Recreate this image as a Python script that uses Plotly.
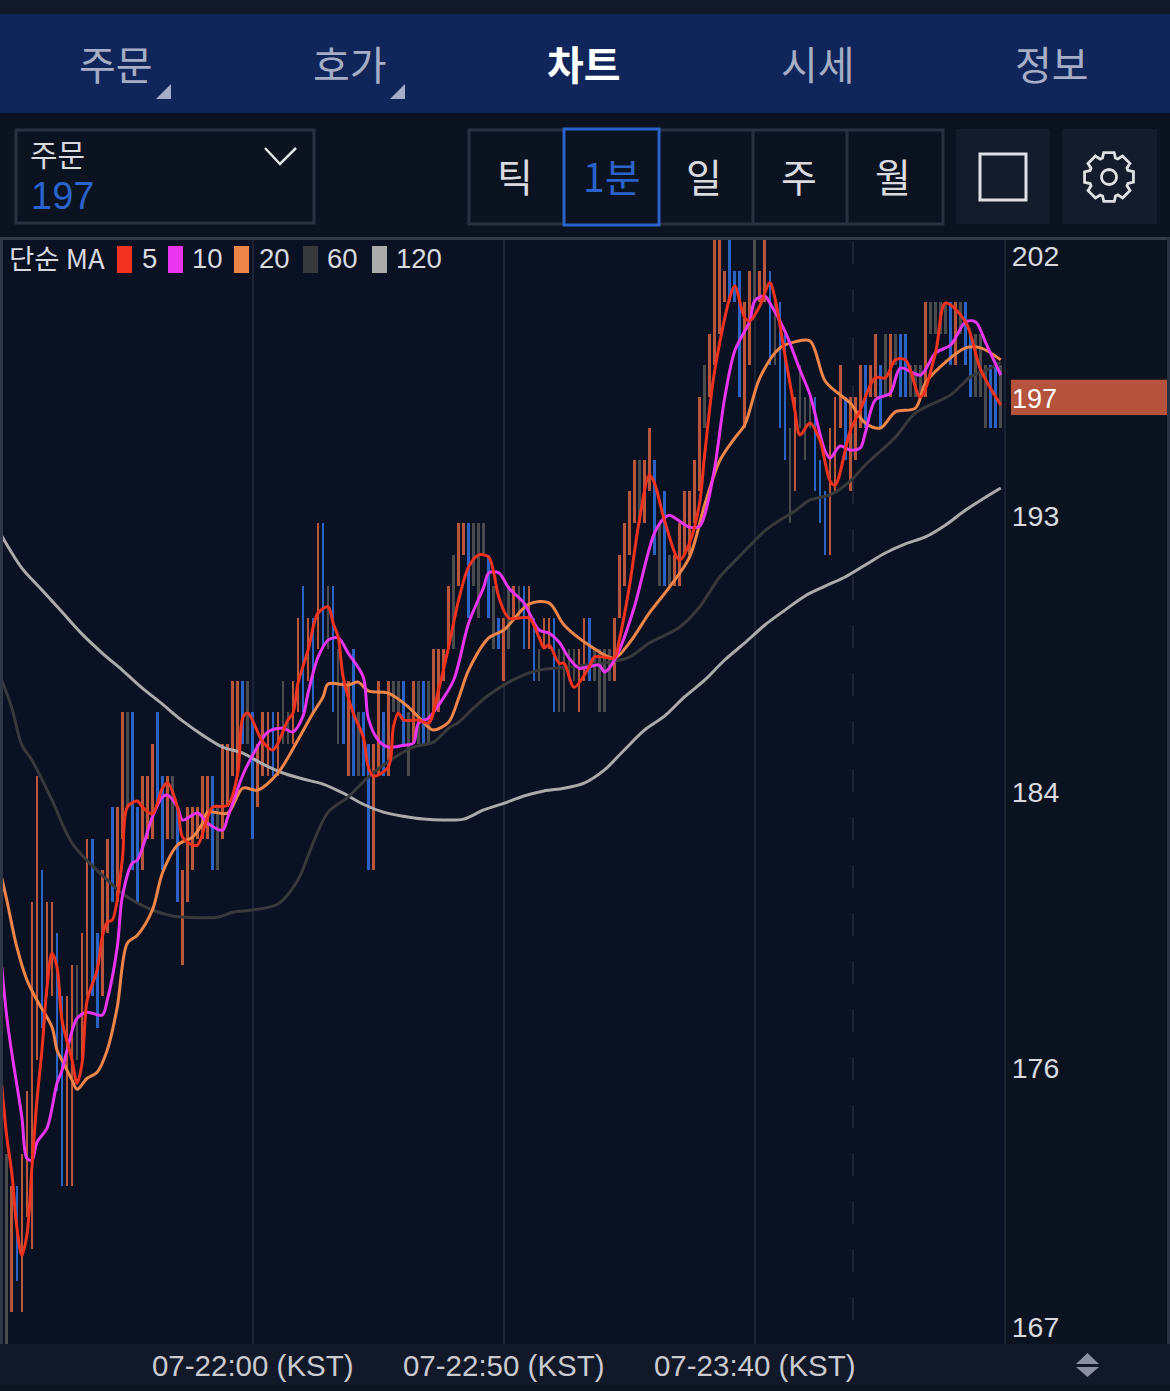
import math
import plotly.graph_objects as go

W, H = 1170, 1391

# ---------- data ----------
first_minute = -49  # minutes relative to 22:00 of the first bar
bar_high = [
173,172,172,173,175,181,185,182,181,181,
180,178,178,179,179,180,183,183,180,182,
183,184,184,187,187,187,184,185,185,186,
187,185,185,185,184,182,184,184,184,185,
185,185,184,186,186,188,188,188,188,187,
186,187,187,187,187,188,187,188,190,191,
190,190,193,193,191,191,189,188,188,189,
187,187,186,186,188,187,188,188,188,188,
187,188,188,188,188,189,189,189,191,192,
193,193,193,193,193,193,192,191,190,190,
191,191,191,191,191,190,189,190,190,190,
189,189,189,189,189,190,190,189,189,189,
189,190,192,193,194,195,195,195,196,195,
193,194,192,192,193,194,194,195,197,198,
199,202,202,201,202,201,201,200,201,202,
201,202,201,200,200,199,196,197,198,197,
197,197,195,194,196,197,198,197,197,197,
198,198,198,199,198,199,199,199,199,199,
198,198,198,200,200,200,200,200,200,200,
200,200,199,199,199,198,198,198,198]
bar_low = [
167,168,169,168,171,170,176,177,178,178,
175,172,172,172,176,176,178,178,177,178,
180,181,181,183,184,182,181,182,183,183,
184,182,183,183,181,179,181,182,183,183,
183,182,182,183,184,185,185,186,186,183,
184,185,185,185,185,186,186,186,187,187,
188,187,189,189,189,187,186,186,185,185,
185,185,182,182,185,185,185,187,187,186,
185,186,186,186,186,187,187,188,189,189,
191,192,190,191,190,192,190,189,189,188,
189,190,190,189,189,188,188,189,189,187,
187,187,188,188,187,188,188,188,187,187,
188,188,190,191,192,193,193,193,194,192,
191,191,191,191,191,192,192,193,194,196,
197,198,199,200,200,200,197,196,198,200,
200,200,198,198,196,195,193,194,196,195,
196,194,193,192,192,194,196,195,194,195,
196,196,197,197,196,197,197,198,197,197,
197,197,197,197,199,199,199,199,198,198,
199,198,197,197,197,196,196,196,196]
bar_dir = list(
"grbrrrrbrr"
"bbrrgrrbbr"
"rbrrgbbrrr"
"bbrgbrrrrr"
"rbgrrrrbgb"
"rrrbrggrrb"
"rbrbgbgbrb"
"gbbrrbrggb"
"grgbgrrrrg"
"rrbgggbgbr"
"grgbrbgrrb"
"ggggrrbggg"
"grrrrrgrrb"
"gbgrrrrrrg"
"rrrrbbbrrg"
"rrbgbbgrgg"
"gbbbrrrbrr"
"rbrrbgrgbb"
"gggrggggbr"
"gbbgggbbg")

ma5_i = [-1,0,1,2,3,4,5,6,7,8,9,10,11,13,14,15,16,18,19,20,21,23,24,26,27,29,31,32,34,35,37,38,40,41,44,46,47,48,51,53,56,57,58,60,62,64,65,66,67,69,71,72,73,76,77,78,79,82,84,86,88,90,92,94,96,97,98,100,104,106,107,108,110,111,113,116,117,119,121,122,124,126,128,129,131,134,136,138,139,141,144,145,147,148,150,152,153,155,157,158,160,162,164,165,168,170,173,175,177,179,182,185,187,191,194,198]
ma5 = [175.19,173.54,172.40,170.69,169.80,170.44,172.59,174.71,176.30,178.30,179.37,178.93,177.25,175.98,175.25,175.89,177.88,178.84,179.88,180.36,180.42,182.32,184.00,184.19,184.00,183.78,184.60,184.76,184.00,183.05,182.80,182.80,183.68,184.00,184.06,185.08,186.82,186.98,186.06,185.81,186.76,186.98,187.93,188.97,190.15,190.34,189.83,189.39,188.12,186.98,186.22,185.27,184.98,185.27,186.53,186.98,186.76,186.76,186.66,187.71,189.07,190.56,191.61,191.99,191.92,191.42,190.66,189.99,189.99,189.39,189.04,189.14,188.56,188.56,187.80,188.44,188.75,188.75,188.72,189.29,190.97,193.09,194.52,194.27,193.09,191.83,192.37,193.63,195.15,197.82,200.13,200.51,199.50,199.40,199.88,200.61,200.13,198.32,196.55,195.79,196.17,195.60,194.33,194.20,195.92,196.58,197.60,197.60,198.17,198.17,196.99,198.39,199.97,199.37,197.85,196.74]

ma10_i = [-1,0,1,3,4,5,6,8,10,11,12,14,16,19,20,22,23,25,26,29,31,32,34,35,38,40,43,44,47,49,52,55,57,59,60,62,64,66,68,71,72,74,76,79,81,82,84,86,89,92,95,96,98,100,103,106,108,110,112,114,118,119,120,122,125,129,131,132,136,138,139,141,143,145,148,149,151,152,155,158,160,163,164,166,168,170,171,173,176,178,182,185,188,191,193,195,198]
ma10 = [178.93,177.34,176.20,174.17,172.87,172.81,173.38,173.83,175.25,175.66,176.30,177.31,177.50,177.41,177.88,179.56,181.15,182.23,182.32,183.68,184.32,184.38,184.00,183.59,183.81,183.49,183.27,183.68,185.01,185.65,186.38,186.50,186.38,186.88,187.61,188.75,189.29,189.36,188.88,188.12,186.82,186.12,185.90,185.96,186.03,186.66,186.82,187.23,188.02,189.83,190.97,191.42,191.42,190.94,190.47,189.61,189.51,189.23,188.72,188.40,188.50,188.28,188.40,188.97,190.34,192.68,193.16,193.25,192.87,192.90,193.25,194.74,196.96,198.45,199.40,200.04,200.19,199.97,199.08,197.85,197.06,195.28,195.06,195.44,195.31,195.38,195.85,196.90,197.12,197.91,197.69,198.39,198.64,199.37,199.37,198.71,197.69]

ma20_i = [-1,0,2,4,6,9,10,11,13,14,16,18,20,22,24,26,29,31,34,37,39,40,44,47,50,54,58,61,63,64,68,70,72,76,80,84,85,88,90,92,96,99,104,108,111,116,121,124,128,132,136,139,142,145,147,150,154,157,160,163,166,168,171,174,177,181,183,187,191,194,198]
ma20 = [181.75,181.05,179.56,178.52,177.88,177.03,176.30,175.98,175.35,175.06,175.41,175.60,176.30,177.66,179.69,179.94,180.74,181.91,182.80,183.05,183.49,183.84,183.81,184.60,184.54,185.08,186.13,186.98,187.49,187.90,187.87,187.96,187.68,187.61,187.17,186.53,186.44,186.69,187.45,188.34,189.36,189.61,190.43,190.47,189.77,189.13,188.72,189.20,190.15,190.97,191.92,193.57,194.97,195.69,196.11,197.60,198.55,198.74,198.77,197.50,197.06,196.80,196.17,196.01,196.52,196.64,197.44,198.10,198.55,198.55,198.17]

ma60_i = [-1,1,3,5,9,13,19,24,29,33,36,42,45,49,54,58,61,64,68,72,77,81,85,88,90,93,96,102,106,112,120,124,128,134,138,142,146,151,154,157,160,164,168,171,177,181,188,192,196,198]
ma60 = [188.02,187.14,185.96,185.49,184.22,182.86,181.84,181.15,180.74,180.55,180.51,180.51,180.67,180.74,180.93,181.69,182.86,183.84,184.32,184.95,185.55,185.90,186.06,186.50,186.69,187.14,187.55,188.12,188.34,188.44,188.59,188.75,189.20,189.70,190.34,191.29,191.95,192.75,193.09,193.38,193.73,193.89,194.33,194.84,195.72,196.49,197.06,197.63,197.91,198.10]

ma120_i = [-1,3,7,11,15,19,23,27,31,35,39,43,47,51,55,59,63,67,71,75,79,83,87,91,95,99,103,107,111,115,119,123,127,131,135,139,143,147,151,155,159,163,167,171,175,179,183,187,191,195,198]
ma120 = [192.59,191.57,190.88,190.18,189.48,188.88,188.34,187.77,187.26,186.73,186.28,185.90,185.71,185.36,185.08,184.89,184.73,184.44,184.09,183.84,183.71,183.62,183.59,183.62,183.91,184.12,184.35,184.51,184.60,184.76,185.17,185.81,186.44,186.88,187.49,188.02,188.66,189.20,189.77,190.24,190.69,191.00,191.29,191.67,192.05,192.34,192.56,192.94,193.41,193.82,194.11]

x_ticks = [0, 50, 100]
x_labels = ["07-22:00 (KST)", "07-22:50 (KST)", "07-23:40 (KST)"]
y_ticks = [201.46, 193.22, 184.47, 175.73, 167.53]
y_labels = ["202", "193", "184", "176", "167"]
last_price = 196.93
now_minute = 119.56
ma_names = ["5", "10", "20", "60", "120"]
ma_colors = ["#F0321E", "#E935F0", "#F0854A", "#38393B", "#ABABAB"]
nav_labels = ["주문", "호가", "차트", "시세", "정보"]
period_labels = ["틱", "1분", "일", "주", "월"]

# ---------- styles ----------
BG = "#0B1220"
NAV = "#10265A"
STRIP = "#111827"
BAND = "#111827"
LINE = "#2A3040"
GRID = "#1C2334"
TXT = "#D9DBE0"
NAVTXT = "#A5AEC5"
BLUE = "#2A63C9"
UP = "#B8553A"
DOWN = "#2A63C4"
FLAT = "#4A4B4D"
SANS = "Liberation Sans, Noto Sans CJK KR"
KR = "Noto Sans CJK KR"


def px(x):
    return x / W


def py(y):
    return 1 - y / H


def minute(i):
    return i + first_minute


shapes = []
ann = []


def rect(x0, y0, x1, y1, fill=None, line=None, lw=0, layer="above"):
    shapes.append(dict(type="rect", xref="paper", yref="paper", x0=px(x0), x1=px(x1),
                       y0=py(y1), y1=py(y0), fillcolor=fill or "rgba(0,0,0,0)",
                       line=dict(color=line or "rgba(0,0,0,0)", width=lw), layer=layer))


def path(points, color=None, lw=0, fill=None, close=False):
    d = "M " + " L ".join(f"{px(a):.5f},{py(b):.5f}" for a, b in points) + (" Z" if close else "")
    shapes.append(dict(type="path", xref="paper", yref="paper", path=d,
                       fillcolor=fill or "rgba(0,0,0,0)",
                       line=dict(color=color or "rgba(0,0,0,0)", width=lw), layer="above"))


def label(x, y, text, size, color=TXT, anchor="center", family=SANS):
    ann.append(dict(xref="paper", yref="paper", x=px(x), y=py(y), text=text, showarrow=False,
                    xanchor=anchor, yanchor="middle", font=dict(size=size, color=color, family=family),
                    borderpad=0, borderwidth=0))


# page furniture
rect(0, 0, 1170, 14, fill=STRIP, layer="below")
rect(0, 14, 1170, 113, fill=NAV, layer="below")
rect(0, 1344, 1170, 1385, fill=BAND, layer="below")

for cx, t in zip([116, 350, 584, 818, 1052], nav_labels):
    if t == "차트":
        label(cx, 63, f"<b>{t}</b>", 40, "#FFFFFF", family=KR)
    else:
        label(cx, 63, t, 40, NAVTXT, family=KR)
for x0 in (156, 390):
    path([(x0 + 15, 84), (x0 + 15, 99), (x0, 99)], fill=NAVTXT, close=True)

# instrument box
rect(16, 130, 314, 223, line=LINE, lw=3)
label(30, 153, "주문", 30, TXT, anchor="left", family=KR)
label(31, 196, "197", 38, BLUE, anchor="left", family="Liberation Sans")
path([(265, 148), (280, 164), (296, 148)], color="#E4E5E8", lw=2.5)

# period buttons
rect(469, 130, 943, 224, line=LINE, lw=3)
for x in (753, 847):
    path([(x, 130), (x, 224)], color=LINE, lw=3)
rect(564, 129, 659, 225, fill=BG, line=BLUE, lw=3)
for cx, t in zip([515, 612, 704, 799, 893], period_labels):
    label(cx, 175, t, 39, BLUE if t == "1분" else TXT, family=KR)

# icon buttons
rect(956, 129, 1050, 224, fill="#141C2C")
rect(1062, 129, 1157, 224, fill="#141C2C")
rect(980, 154, 1026, 200, line="#DEE0E3", lw=3)
gear = []
for k in range(8):
    base = k * math.pi / 4 - math.pi / 8
    for da, r in ((0.06, 20), (0.18, 25), (0.60, 25), (0.72, 20)):
        a = base + da
        gear.append((1109 + r * math.cos(a), 177 + r * math.sin(a)))
path(gear, color="#DEE0E3", lw=2.8, close=True)
circ = [(1109 + 7.5 * math.cos(k * math.pi / 12), 177 + 7.5 * math.sin(k * math.pi / 12)) for k in range(24)]
path(circ, color="#DEE0E3", lw=2.8, close=True)

# chart frame
rect(0, 238, 3, 1344, fill="#2F3645")
rect(0, 237, 1170, 240, fill="#333B4A")
rect(1167, 238, 1170, 1344, fill="#2A3140")
shapes.append(dict(type="line", xref="x", yref="paper", x0=now_minute, x1=now_minute,
                   y0=py(1320), y1=py(240), line=dict(color=GRID, width=2, dash="23px,25px"), layer="below"))

# price tag
shapes.append(dict(type="rect", xref="paper", yref="y", x0=px(1011), x1=px(1167),
                   y0=last_price - 0.51, y1=last_price + 0.61, fillcolor="#B5533C",
                   line=dict(width=0), layer="above"))
ann.append(dict(xref="paper", yref="y", x=px(1010), y=last_price, text="197", showarrow=False,
                xanchor="left", yanchor="middle", font=dict(size=27, color="#FFFFFF", family=SANS)))

# MA legend
label(9, 257, "단순 MA", 27.5, TXT, anchor="left", family=KR)
for name, col, sx, tx in zip(ma_names, ma_colors, [117, 168, 234, 303, 372], [142, 192, 259, 327, 396]):
    rect(sx, 246, sx + 15, 273, fill=col)
    label(tx, 258, name, 27.5, TXT, anchor="left")

# sort icon
path([(1076, 1364), (1099, 1364), (1087.5, 1353)], fill="#8A90A0", close=True)
path([(1076, 1367), (1099, 1367), (1087.5, 1377)], fill="#8A90A0", close=True)

fig = go.Figure()

# price bars
dir_color = {"r": UP, "b": DOWN, "g": FLAT}
fig.add_trace(go.Bar(
    x=[minute(i) for i in range(len(bar_high))],
    y=[h - l for h, l in zip(bar_high, bar_low)],
    base=bar_low,
    width=0.54,
    marker=dict(color=[dir_color[d] for d in bar_dir], line=dict(width=0)),
    showlegend=False, hoverinfo="skip",
))

for idx, vals, col, w in [
    (ma120_i, ma120, ma_colors[4], 3),
    (ma60_i, ma60, ma_colors[3], 3),
    (ma20_i, ma20, ma_colors[2], 3),
    (ma10_i, ma10, ma_colors[1], 3),
    (ma5_i, ma5, ma_colors[0], 3),
]:
    fig.add_trace(go.Scatter(x=[minute(i) for i in idx], y=vals, mode="lines",
                             line=dict(color=col, width=w, shape="spline", smoothing=0.9),
                             showlegend=False, hoverinfo="skip"))

fig.update_layout(
    width=W, height=H, margin=dict(l=0, r=0, t=0, b=0, autoexpand=False),
    paper_bgcolor=BG, plot_bgcolor="#0A1122",
    shapes=shapes, annotations=ann, bargap=0, showlegend=False,
    xaxis=dict(domain=[px(3), px(1004)], range=[-49.76, 149.64], tickmode="array",
               tickvals=x_ticks, ticktext=x_labels, showgrid=True, gridcolor=GRID, gridwidth=2,
               zeroline=False, showline=False, ticks="", ticklabelstandoff=1,
               tickfont=dict(size=29.5, color="#C9CBD1", family=SANS), anchor="y", layer="below traces"),
    yaxis=dict(domain=[py(1344), py(238)], range=[166.99, 202.03], side="right", tickmode="array",
               tickvals=y_ticks, ticktext=y_labels, showgrid=False, zeroline=False, showline=True,
               linecolor=GRID, linewidth=2, ticks="", ticklabelstandoff=0,
               tickfont=dict(size=28.5, color=TXT, family=SANS), anchor="x"),
)

fig.write_html("out.html", config=dict(displayModeBar=False),
               post_script="document.body.style.margin='0';document.body.style.background='#0B1220';")
